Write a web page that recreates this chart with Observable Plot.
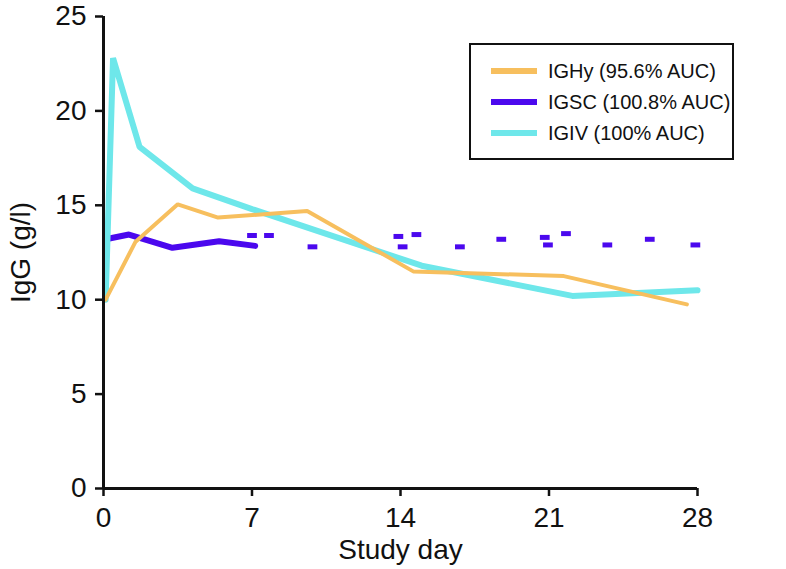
<!DOCTYPE html>
<html>
<head>
<meta charset="utf-8">
<script src="https://cdn.jsdelivr.net/npm/d3@7"></script>
<script src="https://cdn.jsdelivr.net/npm/@observablehq/plot@0.6"></script>
<style>
  html, body { margin: 0; padding: 0; background: #fff; }
  #wrap { position: relative; width: 786px; height: 569px; font-family: "Liberation Sans", Arial, sans-serif; }
  #legend { position: absolute; left: 469px; top: 43px; width: 261px; height: 113px; border: 2px solid #111; background: #fff; box-sizing: content-box; }
  .row { position: absolute; left: 0; height: 30px; display: flex; align-items: center; font-size: 20px; color: #111; white-space: nowrap; }
  .sw { display: inline-block; width: 46px; height: 6px; margin-left: 20px; margin-right: 11px; }
</style>
</head>
<body>
<div id="wrap"></div>
<script>
const colors = { IGHy: "#f7bf5e", IGSC: "#4b08ee", IGIV: "#6ee7ea" };
const legendLabels = ["IGHy (95.6% AUC)", "IGSC (100.8% AUC)", "IGIV (100% AUC)"];
const xTicks = [0, 7, 14, 21, 28];
const yTicks = [0, 5, 10, 15, 20, 25];

const ivDays   = [0.1, 0.45, 1.7, 4.2, 7, 15, 22.1, 28];
const ivValues = [10, 22.8, 18.1, 15.9, 14.8, 11.8, 10.2, 10.5];

const hyDays   = [0.1, 1.5, 3.5, 5.4, 9.6, 14.6, 21.7, 27.5];
const hyValues = [10, 13.05, 15.05, 14.35, 14.7, 11.5, 11.25, 9.75];

const scDays   = [0.1, 1.2, 3.25, 5.45, 7.15];
const scValues = [13.2, 13.45, 12.75, 13.1, 12.85];

const scDashDays   = [7.0, 7.8, 9.85, 13.9, 14.1, 14.75, 16.8, 18.75, 20.8, 20.95, 21.8, 23.75, 25.75, 27.9];
const scDashValues = [13.4, 13.4, 12.8, 13.35, 12.8, 13.45, 12.8, 13.2, 13.3, 12.9, 13.5, 12.9, 13.2, 12.9];

const toRows = (days, vals) => days.map((d, i) => ({ day: d, v: vals[i] }));
const iv = toRows(ivDays, ivValues);
const hy = toRows(hyDays, hyValues);
const sc = toRows(scDays, scValues);
const scDash = toRows(scDashDays, scDashValues);
const dashHalf = 0.23;

const chart = Plot.plot({
  width: 786,
  height: 569,
  marginLeft: 103,
  marginRight: 89,
  marginTop: 16,
  marginBottom: 81,
  style: { fontFamily: "'Liberation Sans', Arial, sans-serif", color: "#111", background: "#fff" },
  x: { domain: [0, 28] },
  y: { domain: [0, 25] },
  marks: [
    Plot.line(sc, { x: "day", y: "v", stroke: colors.IGSC, strokeWidth: 6, strokeLinejoin: "miter" }),
    Plot.link(scDash, { x1: d => d.day - dashHalf, x2: d => d.day + dashHalf, y1: "v", y2: "v", stroke: colors.IGSC, strokeWidth: 5, strokeLinecap: "butt" }),
    Plot.line(iv, { x: "day", y: "v", stroke: colors.IGIV, strokeWidth: 6, strokeLinejoin: "miter" }),
    Plot.line(hy, { x: "day", y: "v", stroke: colors.IGHy, strokeWidth: 4, strokeLinejoin: "miter" }),
    Plot.ruleX([0], { stroke: "#111", strokeWidth: 3 }),
    Plot.ruleY([0], { stroke: "#111", strokeWidth: 3 }),
    Plot.axisX({ ticks: xTicks, tickSize: 8, tickPadding: 11, fontSize: 28, strokeWidth: 2.5, label: "Study day", labelAnchor: "center", labelArrow: "none", labelOffset: 70 }),
    Plot.axisY({ ticks: yTicks, tickSize: 8, tickPadding: 9, fontSize: 28, strokeWidth: 2.5, label: "IgG (g/l)", labelAnchor: "center", labelArrow: "none", labelOffset: 93 })
  ]
});
const wrap = document.getElementById("wrap");
wrap.appendChild(chart);

const legend = document.createElement("div");
legend.id = "legend";
const keys = ["IGHy", "IGSC", "IGIV"];
keys.forEach((k, i) => {
  const row = document.createElement("div");
  row.className = "row";
  row.style.top = (11 + i * 31) + "px";
  const sw = document.createElement("span");
  sw.className = "sw";
  sw.style.background = colors[k];
  row.appendChild(sw);
  row.appendChild(document.createTextNode(legendLabels[i]));
  legend.appendChild(row);
});
wrap.appendChild(legend);
</script>
</body>
</html>
